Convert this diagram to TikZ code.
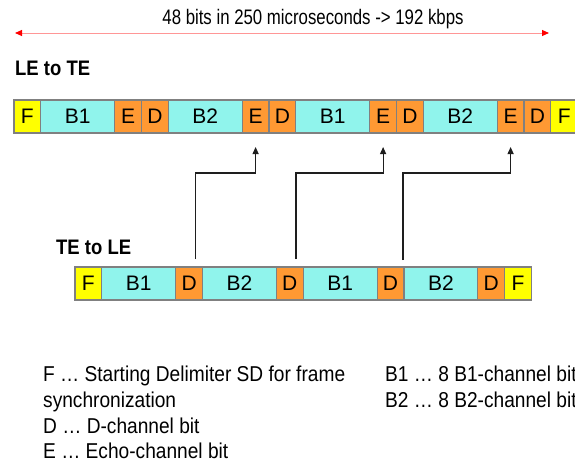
\documentclass[tikz,border=0pt]{standalone}
\usepackage{fontspec}
\setmainfont{Liberation Sans}[FakeStretch=0.88]
\newfontfamily\cellfont{Liberation Sans}
\newfontfamily\titlefont{Liberation Sans}[FakeStretch=0.80]
\newfontfamily\legfont{Liberation Sans}[FakeStretch=0.89]
\usetikzlibrary{arrows.meta,calc}
\definecolor{cellY}{RGB}{255,255,0}
\definecolor{cellC}{RGB}{144,244,236}
\definecolor{cellO}{RGB}{255,153,51}
\definecolor{cellB}{RGB}{128,128,128}
\definecolor{lineR}{RGB}{255,150,150}
\definecolor{conn}{RGB}{30,30,30}
\tikzset{
  cellbase/.style={draw=cellB, line width=1.2pt, minimum height=33pt, inner sep=0pt, outer sep=0pt, anchor=west, font=\cellfont\fontsize{21}{24}\selectfont},
  cf/.style={cellbase, fill=cellY, minimum width=26.8pt},
  cs/.style={cellbase, fill=cellO, minimum width=26.8pt},
  cb/.style={cellbase, fill=cellC, minimum width=73.9pt},
  conline/.style={draw=conn, line width=1.1pt, -{Triangle[length=7pt,width=6pt]}},
  redline/.style={draw=lineR, line width=1pt, {Triangle[length=7pt,width=6pt,color=red]}-{Triangle[length=7pt,width=6pt,color=red]}},
  lbl/.style={inner sep=0pt, anchor=base west, font=\bfseries\fontsize{21}{24}\selectfont},
  legend/.style={inner sep=0pt, anchor=base west, font=\legfont\fontsize{21.5}{24}\selectfont},
}
\begin{document}
\begin{tikzpicture}[x=1pt,y=1pt]
\useasboundingbox (0,0) rectangle (575,-466);
% title and red arrow
\node[inner sep=0pt, anchor=base, font=\titlefont\fontsize{21}{24}\selectfont] (title) at (313,-24) {48 bits in 250 microseconds -> 192 kbps};
\coordinate (la) at (15,-33);
\coordinate (ra) at (549,-33);
\draw[redline] (la) -- (ra);
% labels
\node[lbl] (lete) at (15,-75) {LE to TE};
\node[lbl] (tele) at (56,-254) {TE to LE};
% top row
\node[cf] (t1) at (14,-116.5) {F};
\node[cb] (t2) at (t1.east) {B1};
\node[cs] (t3) at (t2.east) {E};
\node[cs] (t4) at (t3.east) {D};
\node[cb] (t5) at (t4.east) {B2};
\node[cs] (t6) at (t5.east) {E};
\node[cs] (t7) at (t6.east) {D};
\node[cb] (t8) at (t7.east) {B1};
\node[cs] (t9) at (t8.east) {E};
\node[cs] (t10) at (t9.east) {D};
\node[cb] (t11) at (t10.east) {B2};
\node[cs] (t12) at (t11.east) {E};
\node[cs] (t13) at (t12.east) {D};
\node[cf] (t14) at (t13.east) {F};
% bottom row
\node[cf] (b1) at (75,-283.5) {F};
\node[cb] (b2) at (b1.east) {B1};
\node[cs] (b3) at (b2.east) {D};
\node[cb] (b4) at (b3.east) {B2};
\node[cs] (b5) at (b4.east) {D};
\node[cb] (b6) at (b5.east) {B1};
\node[cs] (b7) at (b6.east) {D};
\node[cb] (b8) at (b7.east) {B2};
\node[cs] (b9) at (b8.east) {D};
\node[cf] (b10) at (b9.east) {F};
% connectors
\coordinate (s1) at (195.7,-259);
\coordinate (s2) at (296,-259);
\coordinate (s3) at (403,-260);
\coordinate (e1) at ($(t6.south)+(0,-14)$);
\coordinate (e2) at ($(t9.south)+(0,-14)$);
\coordinate (e3) at ($(t12.south)+(0,-14)$);
\draw[conline] (s1) |- ($(e1)+(0,-26)$) -- (e1);
\draw[conline] (s2) |- ($(e2)+(0,-26)$) -- (e2);
\draw[conline] (s3) |- ($(e3)+(0,-26)$) -- (e3);
% legend
\node[legend] (lgF) at (43,-381) {F … Starting Delimiter SD for frame};
\node[legend] (lgS) at (43,-407) {synchronization};
\node[legend] (lgD) at (43,-433) {D … D-channel bit};
\node[legend] (lgE) at (43,-458) {E … Echo-channel bit};
\node[legend] (lgB1) at (385,-381) {B1 … 8 B1-channel bit};
\node[legend] (lgB2) at (385,-407) {B2 … 8 B2-channel bit};
\end{tikzpicture}
\end{document}
